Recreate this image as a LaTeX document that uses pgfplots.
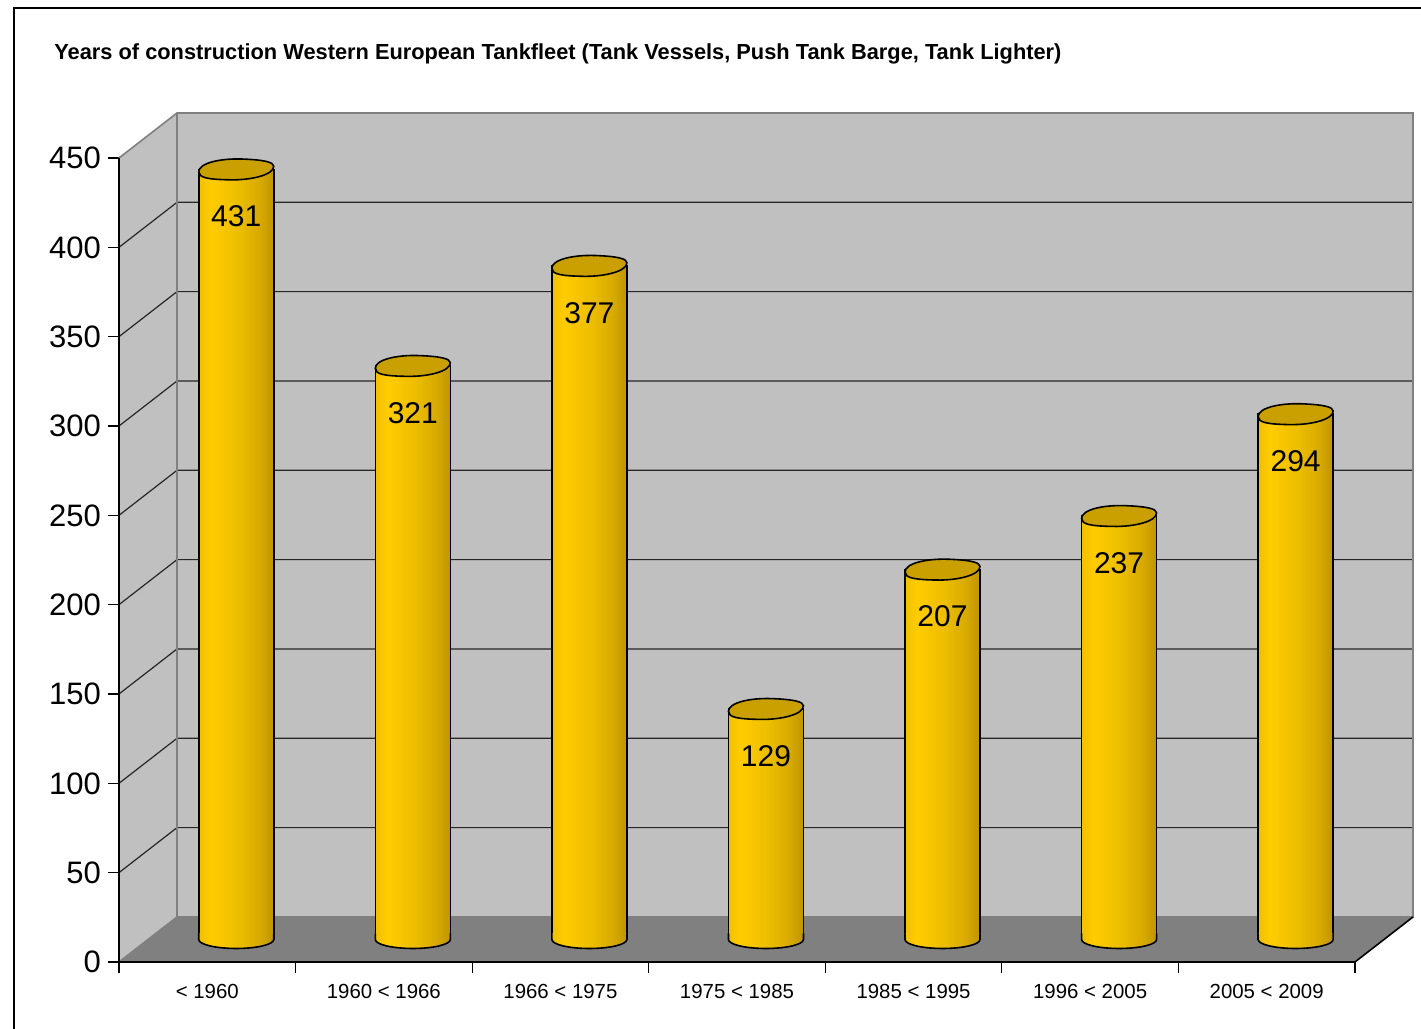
\documentclass[border=0pt]{standalone}
\usepackage{pgfplots}
\pgfplotsset{compat=1.18}
\usepackage{fontspec}
\setmainfont{Liberation Sans}
\definecolor{wall}{HTML}{C0C0C0}
\definecolor{floorc}{HTML}{808080}
\definecolor{edgec}{HTML}{808080}
\definecolor{capc}{HTML}{C9A000}
\definecolor{cA}{HTML}{F0C000}
\definecolor{cB}{HTML}{FFCC00}
\definecolor{cC}{HTML}{EEBF00}
\definecolor{cD}{HTML}{D9AB00}
\definecolor{cE}{HTML}{BF9400}
\pgfdeclarehorizontalshading{cyl}{100bp}{color(0bp)=(cA); color(25bp)=(cA); color(33bp)=(cB); color(50bp)=(cC); color(65bp)=(cD); color(75bp)=(cE); color(100bp)=(cE)}
\pgfdeclareplotmark{captop}{%
  \filldraw[fill=capc, draw=black, line width=0.8pt] (-18.75pt,-1.2pt) .. controls (-18.75pt,3.2pt) and (-8pt,5.6pt) .. (3pt,5.2pt) .. controls (14pt,4.8pt) and (18.75pt,3.6pt) .. (18.75pt,1.6pt) .. controls (18.75pt,-2.6pt) and (8pt,-5.4pt) .. (-3pt,-5.2pt) .. controls (-14pt,-5pt) and (-18.75pt,-4.2pt) .. cycle;}
\pgfdeclareplotmark{capbot}{%
  \path[draw=none, shade, shading=cyl] (-18.75pt,3pt) -- (-18.75pt,0pt) arc[start angle=180,end angle=360,x radius=18.75pt,y radius=4.5pt] -- (18.75pt,3pt) -- cycle;
  \draw[black, line width=0.8pt] (-18.75pt,3pt) -- (-18.75pt,0pt) arc[start angle=180,end angle=360,x radius=18.75pt,y radius=4.5pt] -- (18.75pt,3pt);}
\pgfplotsset{cylbar/.style={ybar, bar width=37.5pt, bar shift=0pt, shade, shading=cyl, draw=black, line width=0.8pt}}
\begin{document}
\begin{tikzpicture}
\useasboundingbox (0,0) rectangle (710.5pt,514.5pt);
\fill[white] (0,0) rectangle (710.5pt,514.5pt);
\draw[line width=0.8pt] (7pt,-10pt) |- (730pt,510.5pt);
\node[anchor=base west, inner sep=0pt, font=\bfseries\fontsize{10.9}{12}\selectfont] at (27pt,484.5pt)
  {Years of construction Western European Tankfleet (Tank Vessels, Push Tank Barge, Tank Lighter)};
\begin{axis}[
  at={(59.5pt,33.5pt)}, anchor=south west,
  scale only axis, width=618pt, height=402pt,
  xmin=0, xmax=7, ymin=-12.6, ymax=437.4,
  clip=false,
  axis line style={draw=none},
  xtick pos=bottom, ytick pos=left,
  tick align=outside, major tick length=5.5pt,
  tick style={black, line width=0.6pt},
  xtick={0,1,2,3,4,5,6,7},
  x tick label as interval,
  xticklabels={{< 1960},{1960 < 1966},{1966 < 1975},{1975 < 1985},{1985 < 1995},{1996 < 2005},{2005 < 2009}},
  xticklabel style={font=\fontsize{10.2}{12}\selectfont, yshift=-2pt},
  ytick={-12.6,37.4,87.4,137.4,187.4,237.4,287.4,337.4,387.4,437.4},
  yticklabels={0,50,100,150,200,250,300,350,400,450},
  yticklabel style={font=\fontsize{15.5}{18}\selectfont},
  /pgf/number format/assume math mode=true,
]
% walls and floor
\fill[wall] (axis cs:0,-12.6) -- (axis cs:0.3285,12.6) -- (axis cs:0.3285,462.6) -- (axis cs:0,437.4) -- cycle;
\fill[wall] (axis cs:0.3285,12.6) rectangle (axis cs:7.3285,462.6);
\fill[floorc] (axis cs:0,-12.6) -- (axis cs:7,-12.6) -- (axis cs:7.3285,12.6) -- (axis cs:0.3285,12.6) -- cycle;
\pgfplotsinvokeforeach{37.4,87.4,137.4,187.4,237.4,287.4,337.4,387.4}{
  \draw[black!85, line width=0.6pt] (axis cs:0,#1) -- (axis cs:0.3285,{#1+25.2}) -- (axis cs:7.3285,{#1+25.2});
}
\draw[edgec, line width=0.8pt] (axis cs:0,437.4) -- (axis cs:0.3285,462.6) -- (axis cs:7.3285,462.6) -- (axis cs:7.3285,12.6) -- (axis cs:0.3285,12.6) -- (axis cs:0.3285,462.6);
\draw[edgec, line width=0.8pt] (axis cs:0,-12.6) -- (axis cs:0.3285,12.6);
\draw[black, line width=0.8pt] (axis cs:0,437.4) -- (axis cs:0,-12.6) -- (axis cs:7,-12.6) -- (axis cs:7.3285,12.6);
% cylinders (one plot per bar so each gets its own shading)
\addplot[cylbar] coordinates {(0.664,431)};
\addplot[cylbar] coordinates {(1.664,321)};
\addplot[cylbar] coordinates {(2.664,377)};
\addplot[cylbar] coordinates {(3.664,129)};
\addplot[cylbar] coordinates {(4.664,207)};
\addplot[cylbar] coordinates {(5.664,237)};
\addplot[cylbar] coordinates {(6.664,294)};
\addplot[only marks, mark=capbot]
  coordinates {(0.664,0) (1.664,0) (2.664,0) (3.664,0) (4.664,0) (5.664,0) (6.664,0)};
\addplot[only marks, mark=captop]
  coordinates {(0.664,431) (1.664,321) (2.664,377) (3.664,129) (4.664,207) (5.664,237) (6.664,294)};
\addplot[only marks, mark=none, nodes near coords,
  every node near coord/.append style={anchor=center, yshift=-23.5pt, font=\fontsize{15}{18}\selectfont, text=black}]
  coordinates {(0.664,431) (1.664,321) (2.664,377) (3.664,129) (4.664,207) (5.664,237) (6.664,294)};
\end{axis}
\end{tikzpicture}
\end{document}
